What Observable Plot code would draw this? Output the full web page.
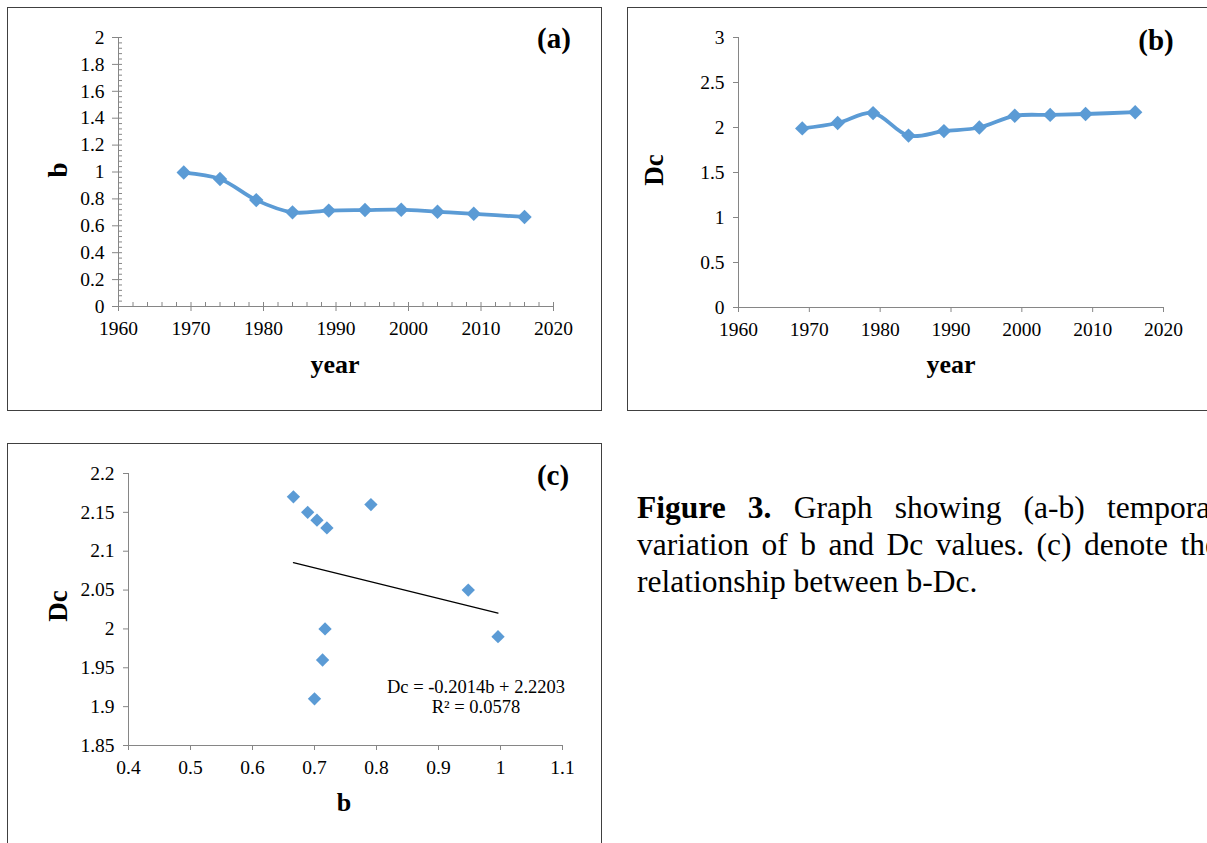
<!DOCTYPE html>
<html><head><meta charset="utf-8">
<script src="https://cdn.jsdelivr.net/npm/d3@7"></script>
<script src="https://cdn.jsdelivr.net/npm/@observablehq/plot@0.6"></script>
<style>
html,body{margin:0;padding:0;background:#fff;}
#page{position:relative;width:1207px;height:843px;overflow:hidden;font-family:"Liberation Serif","Times New Roman",serif;color:#000;}
.box{position:absolute;border:1.4px solid #404040;box-sizing:border-box;}
.plot{position:absolute;}
.t{position:absolute;white-space:nowrap;line-height:1;}
#caption{position:absolute;left:637px;top:489px;width:582px;font-size:31.5px;line-height:37px;}
#caption span{display:block;white-space:nowrap;}
#caption .j{text-align:justify;text-align-last:justify;}
</style></head><body><div id="page"></div>
<script>
// ---- data ----
const years = [1969, 1974, 1979, 1984, 1989, 1994, 1999, 2004, 2009, 2016];
const bValues = [0.996, 0.948, 0.791, 0.700, 0.713, 0.717, 0.720, 0.704, 0.689, 0.666];
const dcValues = [1.99, 2.05, 2.16, 1.91, 1.96, 2.00, 2.13, 2.14, 2.15, 2.17];
const yearTicks = [1960, 1970, 1980, 1990, 2000, 2010, 2020];
const yearMinorTicks = [1962,1964,1966,1968,1972,1974,1976,1978,1982,1984,1986,1988,1992,1994,1996,1998,2002,2004,2006,2008,2012,2014,2016,2018];
const bTicksA = [0, 0.2, 0.4, 0.6, 0.8, 1, 1.2, 1.4, 1.6, 1.8, 2];
const bMinorA = [];
for (let i = 0; i <= 50; i++) if (i % 5) bMinorA.push(+(i * 0.04).toFixed(2));
const dcTicksB = [0, 0.5, 1, 1.5, 2, 2.5, 3];
const bTicksC = [0.4, 0.5, 0.6, 0.7, 0.8, 0.9, 1, 1.1];
const dcTicksC = [1.85, 1.9, 1.95, 2, 2.05, 2.1, 2.15, 2.2];
const equationText = ["Dc = -0.2014b + 2.2203", "R\u00b2 = 0.0578"];

const rows = years.map((year, i) => ({year, b: bValues[i], Dc: dcValues[i]}));

const BLUE = "#5B9BD5";
const AXIS = "#868686";
const FONT = '"Liberation Serif","Times New Roman",serif';
const TICKFS = 19.5;
const fmt = d => String(d);
const page = document.getElementById("page");

function box(l, t, w, h) {
  const d = document.createElement("div");
  d.className = "box";
  Object.assign(d.style, {left: l + "px", top: t + "px", width: w + "px", height: h + "px"});
  page.appendChild(d);
}
function txt(s, x, y, size, opts = {}) {
  const d = document.createElement("div");
  d.className = "t";
  d.textContent = s;
  d.style.left = x + "px";
  d.style.top = y + "px";
  d.style.fontSize = size + "px";
  d.style.fontWeight = opts.bold ? "bold" : "normal";
  d.style.transform = "translate(-50%,-50%)" + (opts.rotate ? " rotate(-90deg)" : "");
  if (opts.align) d.style.textAlign = opts.align;
  page.appendChild(d);
  return d;
}
function place(svg, l, t) {
  const w = document.createElement("div");
  w.className = "plot";
  w.style.left = l + "px";
  w.style.top = t + "px";
  w.appendChild(svg);
  page.appendChild(w);
}
const style = {fontFamily: FONT, fontSize: TICKFS + "px", color: "#000", background: "transparent", overflow: "visible"};

box(7, 7, 595, 404);
box(627, 7, 600, 404);
box(7, 443, 595, 420);

// ---- (a) ----
place(Plot.plot({
  width: 593, height: 402, marginLeft: 110, marginRight: 48, marginTop: 29, marginBottom: 104,
  style,
  x: {domain: [1960, 2020]},
  y: {domain: [0, 2]},
  marks: [
    Plot.axisX(yearMinorTicks, {tickSize: 4, dy: -4, fill: "none", stroke: AXIS, label: null}),
    Plot.axisX(yearTicks, {tickSize: 9, dy: -4, fill: "none", stroke: AXIS, label: null}),
    Plot.axisX(yearTicks, {tickSize: 0, tickPadding: 15, tickFormat: fmt, fill: "#000", fontSize: TICKFS, label: null}),
    Plot.axisY(bMinorA, {tickSize: 4, dx: 4, fill: "none", stroke: AXIS, label: null}),
    Plot.axisY(bTicksA, {tickSize: 10, dx: 4, fill: "none", stroke: AXIS, label: null}),
    Plot.axisY(bTicksA, {tickSize: 0, tickPadding: 14, tickFormat: fmt, fill: "#000", fontSize: TICKFS, label: null}),
    Plot.ruleY([0], {stroke: AXIS}),
    Plot.ruleX([1960], {stroke: AXIS}),
    Plot.line(rows, {x: "year", y: "b", stroke: BLUE, strokeWidth: 3.8, curve: "catmull-rom"}),
    Plot.dot(rows, {x: "year", y: "b", symbol: "diamond2", r: 6.5, fill: BLUE, stroke: "none"})
  ]
}), 8, 8);
txt("(a)", 554, 38, 29, {bold: true});
txt("b", 58, 170, 27, {bold: true, rotate: true});
txt("year", 335, 365, 26, {bold: true});

// ---- (b) ----
place(Plot.plot({
  width: 579, height: 402, marginLeft: 110, marginRight: 44, marginTop: 29, marginBottom: 103,
  style,
  x: {domain: [1960, 2020]},
  y: {domain: [0, 3]},
  marks: [
    Plot.axisX(yearTicks, {tickSize: 5, fill: "none", stroke: AXIS, label: null}),
    Plot.axisX(yearTicks, {tickSize: 0, tickPadding: 15, tickFormat: fmt, fill: "#000", fontSize: TICKFS, label: null}),
    Plot.axisY(dcTicksB, {tickSize: 5, fill: "none", stroke: AXIS, label: null}),
    Plot.axisY(dcTicksB, {tickSize: 0, tickPadding: 14, tickFormat: fmt, fill: "#000", fontSize: TICKFS, label: null}),
    Plot.ruleY([0], {stroke: AXIS}),
    Plot.ruleX([1960], {stroke: AXIS}),
    Plot.line(rows, {x: "year", y: "Dc", stroke: BLUE, strokeWidth: 3.8, curve: "catmull-rom"}),
    Plot.dot(rows, {x: "year", y: "Dc", symbol: "diamond2", r: 6.5, fill: BLUE, stroke: "none"})
  ]
}), 628, 8);
txt("(b)", 1156, 40, 29, {bold: true});
txt("Dc", 654, 170, 27, {bold: true, rotate: true});
txt("year", 951, 365, 26, {bold: true});

// ---- (c) ----
place(Plot.plot({
  width: 593, height: 399, marginLeft: 120, marginRight: 39, marginTop: 29, marginBottom: 98,
  style,
  x: {domain: [0.4, 1.1]},
  y: {domain: [1.85, 2.2]},
  marks: [
    Plot.axisX(bTicksC, {tickSize: 5, fill: "none", stroke: AXIS, label: null}),
    Plot.axisX(bTicksC, {tickSize: 0, tickPadding: 15, tickFormat: fmt, fill: "#000", fontSize: TICKFS, label: null}),
    Plot.axisY(dcTicksC, {tickSize: 5, fill: "none", stroke: AXIS, label: null}),
    Plot.axisY(dcTicksC, {tickSize: 0, tickPadding: 14, tickFormat: fmt, fill: "#000", fontSize: TICKFS, label: null}),
    Plot.ruleY([1.85], {stroke: AXIS}),
    Plot.ruleX([0.4], {stroke: AXIS}),
    Plot.linearRegressionY(rows, {x: "b", y: "Dc", ci: 0, stroke: "#000", strokeWidth: 1.2}),
    Plot.dot(rows, {x: "b", y: "Dc", symbol: "diamond2", r: 6, fill: BLUE, stroke: "none"})
  ]
}), 8, 444);
txt("(c)", 553, 475, 29, {bold: true});
txt("Dc", 58, 606, 27, {bold: true, rotate: true});
txt("b", 344, 803, 26, {bold: true});
const eq = txt(equationText.join("\n"), 476, 697, 18.5, {align: "center"});
eq.style.whiteSpace = "pre";
eq.style.lineHeight = "20px";

// ---- caption ----
const cap = document.createElement("div");
cap.id = "caption";
cap.innerHTML = '<span class="j"><b>Figure 3.</b> Graph showing (a-b) temporal</span>' +
  '<span class="j">variation of b and Dc values. (c) denote the</span>' +
  '<span>relationship between b-Dc.</span>';
page.appendChild(cap);
</script>
</body></html>
